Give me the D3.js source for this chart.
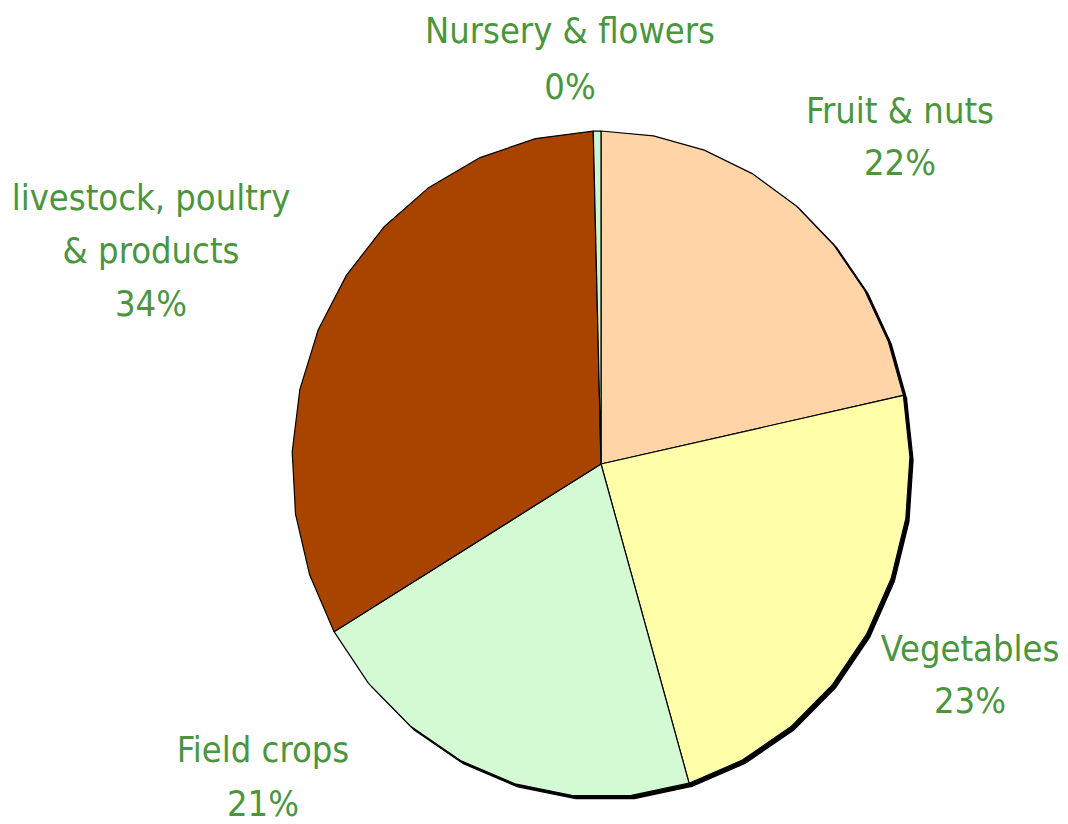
<!DOCTYPE html>
<html>
<head>
<meta charset="utf-8">
<script src="https://cdn.jsdelivr.net/npm/d3@7"></script>
<style>
  body { margin: 0; background: #fff; }
  svg { display: block; }
</style>
</head>
<body>
<div id="pie-chart"></div>
<script>
// Data (clockwise from 12 o'clock)
const categories = ["Fruit & nuts", "Vegetables", "Field crops", "livestock, poultry & products", "Nursery & flowers"];
const values = [21.7, 23.7, 21.2, 33.0, 0.4];
const pctLabels = ["22%", "23%", "21%", "34%", "0%"];
const colors = ["#ffd5a8", "#ffffaa", "#d4fad4", "#a84400", "#ccf5d2"];

// Label layout: centre x, first baseline y, line gap
const labelLayout = [
    { x: 900, y: 123, lines: ["Fruit & nuts"], gap: 52 },
    { x: 970, y: 661, lines: ["Vegetables"], gap: 52 },
    { x: 263, y: 762, lines: ["Field crops"], gap: 54 },
    { x: 151, y: 210, lines: ["livestock, poultry", "& products"], gap: 53 },
    { x: 570, y: 43, lines: ["Nursery & flowers"], gap: 56 },
];

const width = 1068;
const height = 824;
const cx = 601, cy = 464;
const rx = 309, ry = 333;

const svg = d3.select("#pie-chart")
    .append("svg")
    .attr("width", width)
    .attr("height", height);

const pie = d3.pie().sort(null).value((d) => d)(values);

// Old-style polygonal slice: arc split into equal steps of at most ~11 degrees
function slicePath(a0, a1) {
    const n = Math.max(1, Math.ceil((a1 - a0) / (Math.PI / 16.5)));
    const p = d3.path();
    p.moveTo(cx, cy);
    for (let i = 0; i <= n; i++) {
        const a = a0 + (a1 - a0) * i / n;
        p.lineTo(cx + rx * Math.sin(a), cy - ry * Math.cos(a));
    }
    p.closePath();
    return p.toString();
}

// Shadow
svg.append("g")
    .attr("transform", "translate(3,3)")
    .selectAll("path")
    .data(pie)
    .enter()
    .append("path")
    .attr("d", (d) => slicePath(d.startAngle, d.endAngle))
    .style("fill", "#000")
    .style("stroke", "#000")
    .style("stroke-width", 1.5);

// Slices
svg.append("g")
    .selectAll("path")
    .data(pie)
    .enter()
    .append("path")
    .attr("d", (d) => slicePath(d.startAngle, d.endAngle))
    .style("fill", (d, i) => colors[i])
    .style("stroke", "#000")
    .style("stroke-width", 1.2)
    .style("stroke-linejoin", "round");

// Labels
const labels = svg.append("g")
    .style("font-family", "'DejaVu Sans Condensed', 'DejaVu Sans', sans-serif")
    .style("font-size", "36px")
    .style("fill", "#4a963e")
    .attr("text-anchor", "middle");

labelLayout.forEach((l, i) => {
    const lines = l.lines.concat([pctLabels[i]]);
    lines.forEach((t, j) => {
        labels.append("text")
            .attr("x", l.x)
            .attr("y", l.y + j * l.gap)
            .text(t);
    });
});
</script>
</body>
</html>
